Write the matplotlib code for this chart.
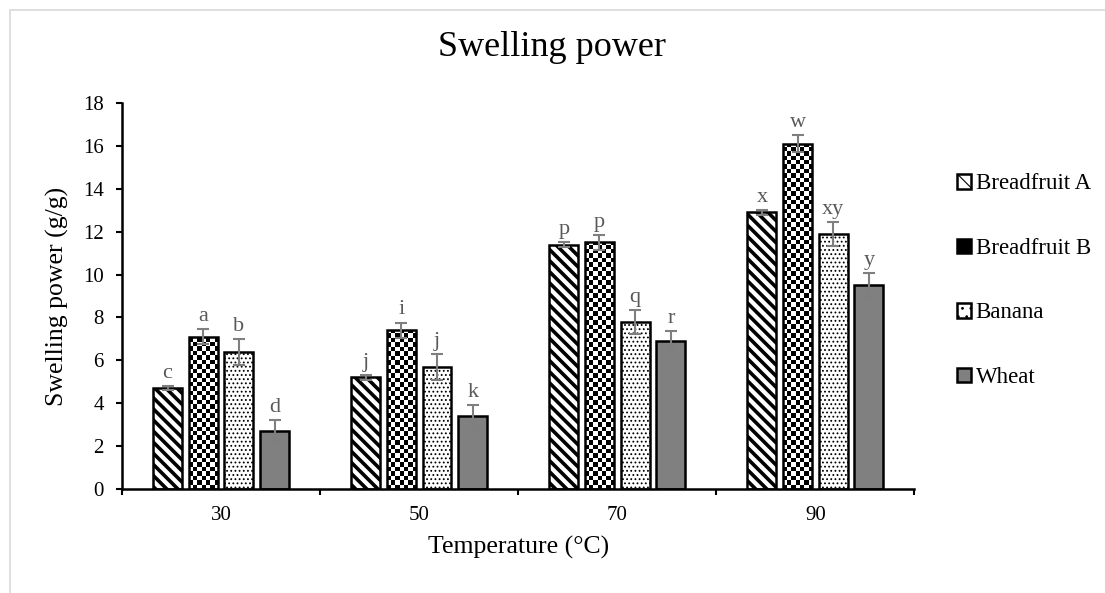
import numpy as np
import matplotlib
matplotlib.use("Agg")
import matplotlib.pyplot as plt
from matplotlib.patches import Patch, Rectangle

# data
temps = ["30", "50", "70", "90"]
series = ["Breadfruit A", "Breadfruit B", "Banana", "Wheat"]
breadfruit_a = [4.7, 5.2, 11.4, 12.9]
breadfruit_b = [7.1, 7.4, 11.5, 16.1]
banana = [6.4, 5.7, 7.8, 11.9]
wheat = [2.7, 3.4, 6.9, 9.5]
err_a = [0.1, 0.1, 0.1, 0.1]
err_b = [0.35, 0.35, 0.35, 0.4]
err_banana = [0.6, 0.6, 0.55, 0.55]
err_wheat = [0.5, 0.5, 0.45, 0.55]
letters_a = ["c", "j", "p", "x"]
letters_b = ["a", "i", "p", "w"]
letters_banana = ["b", "j", "q", "xy"]
letters_wheat = ["d", "k", "r", "y"]

plt.rcParams["font.family"] = ["Liberation Serif", "DejaVu Serif"]

fig = plt.figure(figsize=(11.05, 5.93), dpi=100)
ax = fig.add_axes([0.1104, 0.1754, 0.7172, 0.6509])

# light grey chart border
fig.patches.append(Rectangle((10 / 1105, -0.1), 1.2, 1.1 - 10 / 593,
                             transform=fig.transFigure, fill=False,
                             edgecolor="#d9d9d9", linewidth=1.2))

x = np.arange(len(temps))
pitch = 0.18
width = 0.146
offsets = (np.arange(4) - 1.5) * pitch

values = [breadfruit_a, breadfruit_b, banana, wheat]
errors = [err_a, err_b, err_banana, err_wheat]
letters = [letters_a, letters_b, letters_banana, letters_wheat]

# checkerboard texture, cells ~4.4 px
ax_w = 0.7172 * 1105
ax_h = 0.6509 * 593
cell = 4.4
nc = int(ax_w / cell)
nr = int(ax_h / cell)
checker = (np.add.outer(np.arange(nr), np.arange(nc)) % 2).astype(float)

for i in range(4):
    pos = x + offsets[i]
    if i == 0:
        plt.rcParams["hatch.linewidth"] = 2.6
        bars = ax.bar(pos, values[i], width, color="white", edgecolor="black",
                      linewidth=1.8, hatch="\\\\\\", zorder=2)
    elif i == 1:
        bars = ax.bar(pos, values[i], width, facecolor="none", edgecolor="black",
                      linewidth=1.8, zorder=3)
        for b in bars:
            im = ax.imshow(checker, cmap="gray", interpolation="nearest",
                           extent=(0, 1, 0, 1), transform=ax.transAxes,
                           aspect="auto", zorder=2)
            im.set_clip_path(b)
    elif i == 2:
        plt.rcParams["hatch.linewidth"] = 0.8
        bars = ax.bar(pos, values[i], width, color="white", edgecolor="black",
                      linewidth=1.8, hatch="....", zorder=2)
    else:
        bars = ax.bar(pos, values[i], width, color="#808080", edgecolor="black",
                      linewidth=1.8, zorder=2)
    for b in bars:
        if hasattr(b, "set_hatch_linewidth"):
            b.set_hatch_linewidth(plt.rcParams["hatch.linewidth"])
    ax.errorbar(pos, values[i], yerr=errors[i], fmt="none", ecolor="#7f7f7f",
                elinewidth=1.5, capsize=4, capthick=1.5, zorder=4)
    for xp, v, e, t in zip(pos, values[i], errors[i], letters[i]):
        ax.annotate(t, (xp, v + e), xytext=(0, 6), textcoords="offset points",
                    ha="center", va="baseline", fontsize=16, color="#595959")

ax.set_xlim(-0.5, 3.5)
ax.set_ylim(0, 18)
ax.set_yticks(range(0, 19, 2))
ax.set_xticks(x)
ax.set_xticklabels(temps)
ax.set_xticks(np.arange(-0.5, 4, 1), minor=True)
ax.tick_params(axis="x", which="major", length=0, pad=12, labelsize=15)
ax.tick_params(axis="x", which="minor", length=4, width=1.5, direction="out")
ax.tick_params(axis="y", length=4, width=1.5, direction="out", labelsize=15, pad=9)
for s in ["top", "right"]:
    ax.spines[s].set_visible(False)
for s in ["left", "bottom"]:
    ax.spines[s].set_linewidth(1.8)

ax.set_ylabel("Swelling power (g/g)", fontsize=18.5, labelpad=10)
ax.set_xlabel("Temperature (\u00b0C)", fontsize=18.5, labelpad=8)
fig.suptitle("Swelling power", fontsize=26, x=0.5, y=0.948)

handles = [
    Patch(facecolor="white", edgecolor="black", hatch="\\\\", linewidth=1.8),
    Patch(facecolor="black", edgecolor="black", linewidth=1.8),
    Patch(facecolor="white", edgecolor="black", hatch="..", linewidth=1.8),
    Patch(facecolor="#808080", edgecolor="black", linewidth=1.8),
]
fig.legend(handles, series, loc="center left", bbox_to_anchor=(0.856, 0.5266),
           frameon=False, fontsize=16.5, handlelength=0.6, handleheight=0.6,
           handletextpad=0.2, labelspacing=1.9, borderpad=0)

fig.savefig("out.png", dpi=100)
